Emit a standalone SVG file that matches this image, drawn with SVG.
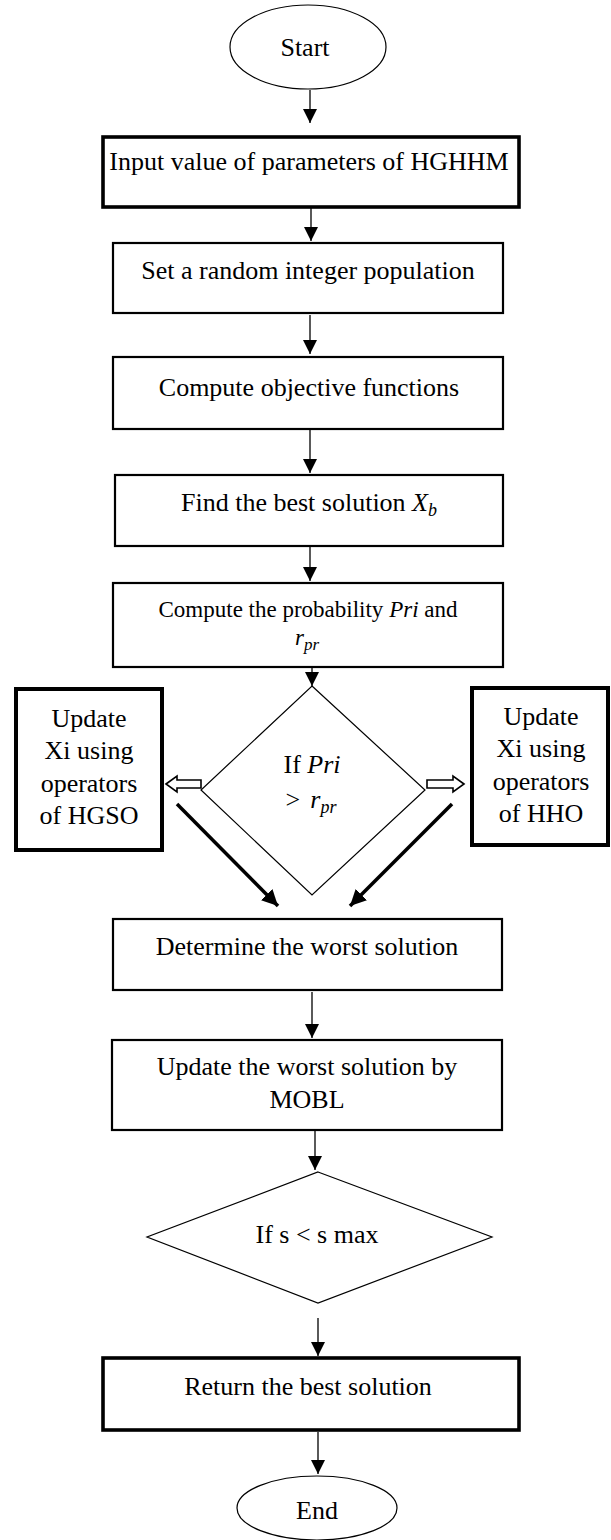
<svg xmlns="http://www.w3.org/2000/svg" width="611" height="1540" viewBox="0 0 611 1540">
  <style>
    text { font-family: "Liberation Serif", "Times New Roman", serif; font-size: 26px; fill: #000; text-anchor: middle; }
    .small { font-size: 23px; }
    .m { font-style: italic; }
    .box { fill: #fff; stroke: #000; stroke-width: 2.2; }
    .boxb { fill: #fff; stroke: #000; stroke-width: 3.6; }
    .thin { fill: #fff; stroke: #000; stroke-width: 1.2; }
    .flow { stroke: #000; stroke-width: 1.3; fill: none; }
    .bold { stroke: #000; stroke-width: 3.5; fill: none; }
    .hollow { fill: #fff; stroke: #000; stroke-width: 1.6; }
  </style>
  <defs>
    <marker id="ah" markerUnits="userSpaceOnUse" markerWidth="15" markerHeight="15" refX="14" refY="7" orient="auto">
      <path d="M0,0 L14,7 L0,14 Z" fill="#000"/>
    </marker>
    <marker id="ahb" markerUnits="userSpaceOnUse" markerWidth="20" markerHeight="20" refX="16" refY="8" orient="auto">
      <path d="M0,0 L16,8 L0,16 Z" fill="#000"/>
    </marker>
  </defs>

  <rect width="611" height="1540" fill="#fff"/>

  <!-- connectors -->
  <g id="connectors">
    <line class="flow" x1="310" y1="90" x2="310" y2="123" marker-end="url(#ah)"/>
    <line class="flow" x1="311" y1="207" x2="311" y2="241" marker-end="url(#ah)"/>
    <line class="flow" x1="310" y1="315" x2="310" y2="354" marker-end="url(#ah)"/>
    <line class="flow" x1="310" y1="430" x2="310" y2="473" marker-end="url(#ah)"/>
    <line class="flow" x1="310" y1="547" x2="310" y2="581" marker-end="url(#ah)"/>
    <line class="flow" x1="312" y1="656" x2="312" y2="686" marker-end="url(#ah)"/>
    <!-- outcome arrows beside the decision -->
    <polygon class="hollow" points="166,784 177,776 177,780 201,780 201,788 177,788 177,792"/>
    <polygon class="hollow" points="464,784 453,776 453,780 427,780 427,788 453,788 453,792"/>
    <line class="bold" x1="177" y1="804" x2="278" y2="906" marker-end="url(#ahb)"/>
    <line class="bold" x1="452" y1="804" x2="350" y2="906" marker-end="url(#ahb)"/>
    <line class="flow" x1="312" y1="992" x2="312" y2="1038" marker-end="url(#ah)"/>
    <line class="flow" x1="315" y1="1130" x2="315" y2="1170" marker-end="url(#ah)"/>
    <line class="flow" x1="318" y1="1318" x2="318" y2="1356" marker-end="url(#ah)"/>
    <line class="flow" x1="318" y1="1432" x2="318" y2="1474" marker-end="url(#ah)"/>
  </g>

  <g id="start">
    <ellipse class="thin" cx="308" cy="47" rx="78" ry="42"/>
    <text x="305" y="56">Start</text>
  </g>

  <g id="input">
    <rect class="boxb" x="103" y="137" width="416" height="70"/>
    <text x="309" y="170">Input value of parameters of HGHHM</text>
  </g>

  <g id="init">
    <rect class="box" x="113" y="243" width="390" height="70"/>
    <text x="308" y="279">Set a random integer population</text>
  </g>

  <g id="objective">
    <rect class="box" x="113" y="357" width="390" height="72"/>
    <text x="309" y="396">Compute objective functions</text>
  </g>

  <g id="best">
    <rect class="box" x="115" y="475" width="388" height="71"/>
    <text x="309" y="511">Find the best solution <tspan class="m">X</tspan><tspan class="m" font-size="18" dy="5">b</tspan></text>
  </g>

  <g id="probability">
    <rect class="box" x="113" y="583" width="390" height="84"/>
    <text class="small" x="308" y="617">Compute the probability <tspan class="m">Pri</tspan> and</text>
    <text class="small" x="307" y="645"><tspan class="m">r</tspan><tspan class="m" font-size="17" dy="5">pr</tspan></text>
  </g>

  <g id="decision-pri">
    <polygon class="thin" points="312,686 425,790 312,895 201,790"/>
    <text x="312" y="773">If <tspan class="m">Pri</tspan></text>
    <text x="311" y="808">&gt;<tspan class="m" dx="10">r</tspan><tspan class="m" font-size="18" dy="5">pr</tspan></text>
  </g>

  <g id="hgso">
    <rect x="16" y="689" width="146" height="161" fill="#fff" stroke="#000" stroke-width="4"/>
    <text x="89" y="727">Update</text>
    <text x="89" y="759">Xi using</text>
    <text x="89" y="792">operators</text>
    <text x="89" y="824">of HGSO</text>
  </g>

  <g id="hho">
    <rect x="472" y="688" width="136" height="157" fill="#fff" stroke="#000" stroke-width="4"/>
    <text x="541" y="725">Update</text>
    <text x="541" y="757">Xi using</text>
    <text x="541" y="790">operators</text>
    <text x="541" y="822">of HHO</text>
  </g>

  <g id="worst">
    <rect class="box" x="113" y="919" width="389" height="71"/>
    <text x="307" y="955">Determine the worst solution</text>
  </g>

  <g id="mobl">
    <rect class="box" x="112" y="1040" width="390" height="90"/>
    <text x="307" y="1075">Update the worst solution by</text>
    <text x="307" y="1108">MOBL</text>
  </g>

  <g id="decision-iter">
    <polygon class="thin" points="318,1172 492,1237 318,1303 147,1237"/>
    <text x="317" y="1243">If s &lt; s max</text>
  </g>

  <g id="result">
    <rect class="boxb" x="103" y="1358" width="416" height="72"/>
    <text x="308" y="1395">Return the best solution</text>
  </g>

  <g id="end">
    <ellipse class="thin" cx="317" cy="1508" rx="80" ry="32"/>
    <text x="317" y="1519">End</text>
  </g>
</svg>
